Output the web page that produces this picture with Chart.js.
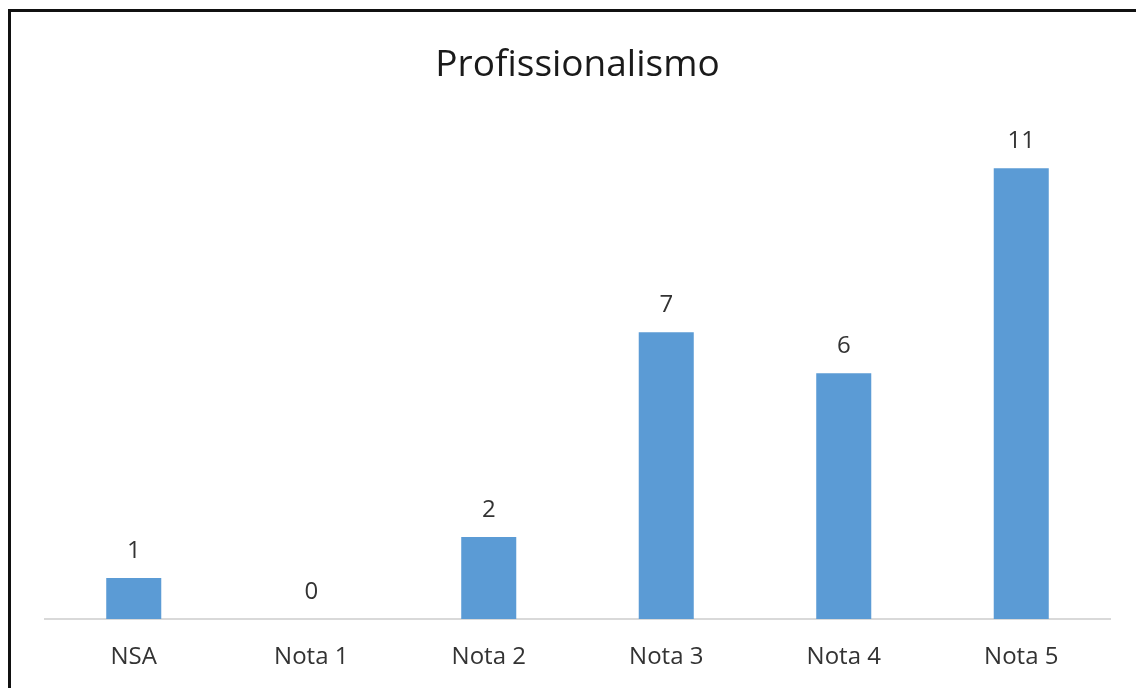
<!DOCTYPE html>
<html>
<head>
<meta charset="utf-8">
<script src="https://cdn.jsdelivr.net/npm/chart.js@4/dist/chart.umd.min.js"></script>
<style>
  html, body { margin: 0; padding: 0; background: #fff; overflow: hidden; }
  #wrap { position: relative; width: 1136px; height: 688px; }
  #frame { position: absolute; left: 8px; top: 9px; width: 1200px; height: 800px;
           border: 3px solid #111; box-sizing: border-box; pointer-events: none; }
</style>
</head>
<body>
<div id="wrap">
  <canvas id="chart" width="1136" height="688"></canvas>
  <div id="frame"></div>
</div>
<script>
const categories = ['NSA', 'Nota 1', 'Nota 2', 'Nota 3', 'Nota 4', 'Nota 5'];
const values = [1, 0, 2, 7, 6, 11];

const FONT = '"Open Sans", sans-serif';

// value labels above each bar
const barLabels = {
  id: 'barLabels',
  afterDatasetsDraw(chart) {
    const c = chart.ctx;
    const meta = chart.getDatasetMeta(0);
    c.save();
    c.fillStyle = '#333333';
    c.font = '24px ' + FONT;
    c.textAlign = 'center';
    c.textBaseline = 'middle';
    meta.data.forEach((bar, i) => {
      c.fillText(String(values[i]), bar.x, bar.y - 27);
    });
    c.restore();
  }
};

new Chart(document.getElementById('chart'), {
  type: 'bar',
  data: {
    labels: categories,
    datasets: [{
      data: values,
      backgroundColor: '#5B9BD5',
      borderWidth: 0,
      barPercentage: 0.62,
      categoryPercentage: 0.5
    }]
  },
  options: {
    responsive: false,
    animation: false,
    layout: { padding: { left: 45, right: 26, top: 0, bottom: 0 } },
    plugins: {
      legend: { display: false },
      tooltip: { enabled: false },
      title: {
        display: true,
        text: 'Profissionalismo',
        color: '#1a1a1a',
        font: { family: FONT, size: 37, weight: 'normal' },
        padding: { top: 43, bottom: 40 }
      }
    },
    scales: {
      x: {
        grid: { display: false, drawTicks: false },
        border: { color: '#d9d9d9', width: 2 },
        ticks: { color: '#333333', font: { family: FONT, size: 24 }, padding: 24 },
        afterFit(scale) { scale.height = 69; }
      },
      y: {
        display: false,
        min: 0,
        max: 12
      }
    }
  },
  plugins: [barLabels]
});
</script>
</body>
</html>
